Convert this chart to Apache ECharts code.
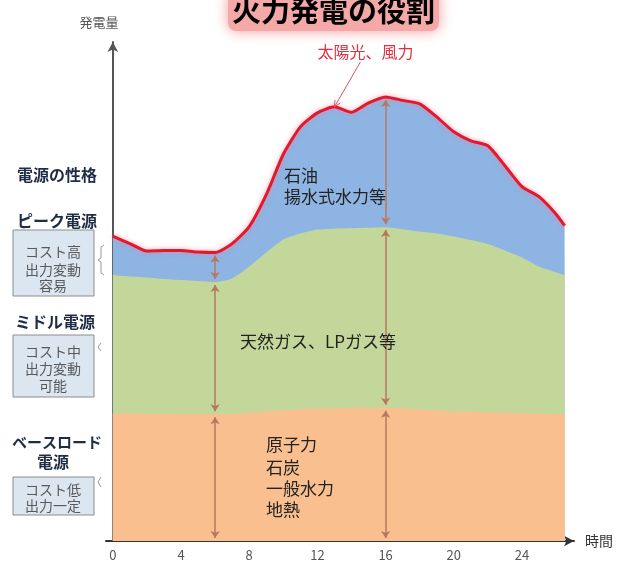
<!DOCTYPE html>
<html>
<head>
<meta charset="utf-8">
<script src="https://cdn.jsdelivr.net/npm/echarts@6/dist/echarts.min.js"></script>
<style>html,body{margin:0;padding:0;background:#fff}#c{width:620px;height:567px}</style>
</head>
<body>
<div id="c"></div>
<script>
// ---- data (hours of the day, generation by power-source layer) ----
const hours = [0,1,2,3,4,5,6,7,8,9,10,11,12,13,14,15,16,17,18,19,20,21,22,23,24,25,26,26.5];
const baseLoad   = [25.6,25.6,25.5,25.5,25.4,25.4,25.4,25.5,25.7,26.0,26.2,26.4,26.5,26.6,26.7,26.7,26.7,26.6,26.4,26.2,26.0,25.9,25.8,25.7,25.6,25.5,25.4,25.4];
const middleLoad = [27.7,27.4,27.3,27.0,26.9,26.7,26.5,27.1,29.3,31.8,34.2,35.2,35.9,36.0,36.0,36.1,36.2,35.9,35.6,35.4,35.0,34.4,33.7,32.5,31.2,29.5,28.4,27.9];
const peakLoad   = [7.8,6.6,5.3,5.7,5.9,5.8,5.9,7.0,8.0,11.6,17.1,21.4,23.4,24.4,23.2,25.0,26.1,25.8,25.6,23.4,21.0,19.9,19.7,17.0,14.2,14.0,11.7,9.9];
const xTickLabels = [0,4,8,12,16,20,24];
const arrowHours = [6,16];
const calloutHour = 13;

const FONT = '"Noto Sans CJK JP", "Noto Sans", sans-serif';
const chart = echarts.init(document.getElementById('c'), null, {renderer:'canvas'});

// cumulative layer tops (areas are drawn back-to-front, each filled down to the axis)
const baseTop   = baseLoad.slice();
const middleTop = baseLoad.map((v,i) => v + middleLoad[i]);
const totalTop  = middleTop.map((v,i) => v + peakLoad[i]);
const pairs = arr => hours.map((h,i) => [h, arr[i]]);

// vertical double-headed arrows built from the layer values
const arrowSegs = [];
arrowHours.forEach(h => {
  const i = hours.indexOf(h);
  [[0, baseTop[i]], [baseTop[i], middleTop[i]], [middleTop[i], totalTop[i]]].forEach(([y0,y1]) =>
    arrowSegs.push([{coord:[h, y0 + 0.6]}, {coord:[h, y1 - 0.6]}]));
});

function txt(x, y, text, font, fill, align) {
  return {type:'text', x:x, y:y, z:50, silent:true,
    style:{text:text, font:font, fill:fill, textAlign:align||'center', textVerticalAlign:'middle', align:align||'center', verticalAlign:'middle'}};
}

const option = {
  animation:false,
  backgroundColor:'#fff',
  title:{
    text:'火力発電の役割', left:228, top:-9, padding:[5,4],
    backgroundColor:'#F5A8A8', borderRadius:8, shadowBlur:14, shadowColor:'#F29B9B',
    textStyle:{fontFamily:FONT, fontSize:29, fontWeight:'bold', color:'#000', lineHeight:30}
  },
  grid:{left:106, right:46, top:42, bottom:26, containLabel:false, outerBoundsMode:'none'},
  xAxis:{
    type:'value', min:-0.4, max:27.05,
    name:'時間', nameLocation:'end', nameGap:11,
    nameTextStyle:{fontFamily:FONT, fontSize:14, color:'#333', verticalAlign:'middle'},
    axisLine:{show:true, symbol:['none','arrow'], symbolSize:[8,10], lineStyle:{color:'#333', width:2}},
    axisTick:{show:false},
    splitLine:{show:false},
    axisLabel:{customValues:xTickLabels, margin:8, fontFamily:FONT, fontSize:13, color:'#555'}
  },
  yAxis:{
    type:'value', min:0, max:100,
    axisLine:{show:true, symbol:['none','arrow'], symbolSize:[8,10], lineStyle:{color:'#555', width:2}},
    axisTick:{show:false}, axisLabel:{show:false}, splitLine:{show:false}
  },
  series:[
    {name:'ピーク電源', type:'line', data:pairs(totalTop), smooth:0.2, symbol:'none',
     lineStyle:{width:3, color:'#E3182D', shadowBlur:5, shadowColor:'rgba(255,120,140,0.7)'},
     areaStyle:{color:'#8EB4E3', opacity:1}, z:2},
    {name:'ミドル電源', type:'line', data:pairs(middleTop), smooth:0.2, symbol:'none',
     lineStyle:{width:0}, areaStyle:{color:'#C4D79B', opacity:1}, z:3},
    {name:'ベースロード電源', type:'line', data:pairs(baseTop), smooth:0.2, symbol:'none',
     lineStyle:{width:0}, areaStyle:{color:'#F9BF8F', opacity:1}, z:4,
     markLine:{silent:true, symbol:['arrow','arrow'], symbolSize:7, label:{show:false},
       lineStyle:{color:'#B8775E', width:1.5, type:'solid'}, data:arrowSegs}}
  ],
  graphic:[
    // y axis name
    txt(99, 22, '発電量', '13px ' + FONT, '#555'),
    // region labels
    txt(284, 176, '石油', '17px ' + FONT, '#222', 'left'),
    txt(284, 197, '揚水式水力等', '17px ' + FONT, '#222', 'left'),
    txt(240, 342, '天然ガス、LPガス等', '17px ' + FONT, '#222', 'left'),
    txt(266, 445, '原子力', '17px ' + FONT, '#222', 'left'),
    txt(266, 468, '石炭', '17px ' + FONT, '#222', 'left'),
    txt(266, 489, '一般水力', '17px ' + FONT, '#222', 'left'),
    txt(266, 510, '地熱', '17px ' + FONT, '#222', 'left'),
    // left characteristics column
    txt(57, 175, '電源の性格', 'bold 16px ' + FONT, '#1f2d44'),
    txt(57, 221, 'ピーク電源', 'bold 16px ' + FONT, '#1f2d44'),
    {type:'rect', shape:{x:13, y:230, width:81, height:66}, z:40, silent:true, style:{fill:'#DCE6F1', stroke:'#8c8c8c', lineWidth:1}},
    txt(53, 252, 'コスト高', '14px ' + FONT, '#595959'),
    txt(53, 270, '出力変動', '14px ' + FONT, '#595959'),
    txt(53, 286, '容易', '14px ' + FONT, '#595959'),
    txt(55, 322, 'ミドル電源', 'bold 16px ' + FONT, '#1f2d44'),
    {type:'rect', shape:{x:13, y:335, width:81, height:62}, z:40, silent:true, style:{fill:'#DCE6F1', stroke:'#8c8c8c', lineWidth:1}},
    txt(53, 352, 'コスト中', '14px ' + FONT, '#595959'),
    txt(53, 369, '出力変動', '14px ' + FONT, '#595959'),
    txt(53, 386, '可能', '14px ' + FONT, '#595959'),
    txt(57, 442, 'ベースロード', 'bold 15px ' + FONT, '#1f2d44'),
    txt(53, 462, '電源', 'bold 16px ' + FONT, '#1f2d44'),
    {type:'rect', shape:{x:13, y:477, width:81, height:38}, z:40, silent:true, style:{fill:'#DCE6F1', stroke:'#8c8c8c', lineWidth:1}},
    txt(53, 490, 'コスト低', '14px ' + FONT, '#595959'),
    txt(53, 506, '出力一定', '14px ' + FONT, '#595959'),
    // braces
    {type:'polyline', z:40, silent:true, shape:{points:[[104,245],[101,247],[101,258],[98,260],[101,262],[101,273],[104,275]]}, style:{stroke:'#999', lineWidth:1, fill:null}},
    {type:'polyline', z:40, silent:true, shape:{points:[[101,343],[98,347],[101,351]]}, style:{stroke:'#999', lineWidth:1, fill:null}},
    {type:'polyline', z:40, silent:true, shape:{points:[[101,477],[98,482],[101,487]]}, style:{stroke:'#999', lineWidth:1, fill:null}}
  ]
};
chart.setOption(option);

// callout "太陽光、風力" anchored to the total at calloutHour
const ci = hours.indexOf(calloutHour);
const tip = chart.convertToPixel({gridIndex:0}, [calloutHour, totalTop[ci]]);
const tail = [tip[0] + 26, tip[1] - 45];
const ang = Math.atan2(tip[1] - tail[1], tip[0] - tail[0]);
const ah = 7, aw = 0.45;
const head = [
  [tip[0] - ah*Math.cos(ang - aw), tip[1] - ah*Math.sin(ang - aw)],
  [tip[0], tip[1]],
  [tip[0] - ah*Math.cos(ang + aw), tip[1] - ah*Math.sin(ang + aw)]
];
chart.setOption({graphic: option.graphic.concat([
  {type:'line', z:45, silent:true, shape:{x1:tail[0], y1:tail[1], x2:tip[0], y2:tip[1]}, style:{stroke:'#E05060', lineWidth:1}},
  {type:'polyline', z:45, silent:true, shape:{points:head}, style:{stroke:'#E05060', lineWidth:1, fill:null}},
  txt(tip[0] + 31, tip[1] - 55, '太陽光、風力', '16px ' + FONT, '#E03040')
])});
</script>
</body>
</html>
